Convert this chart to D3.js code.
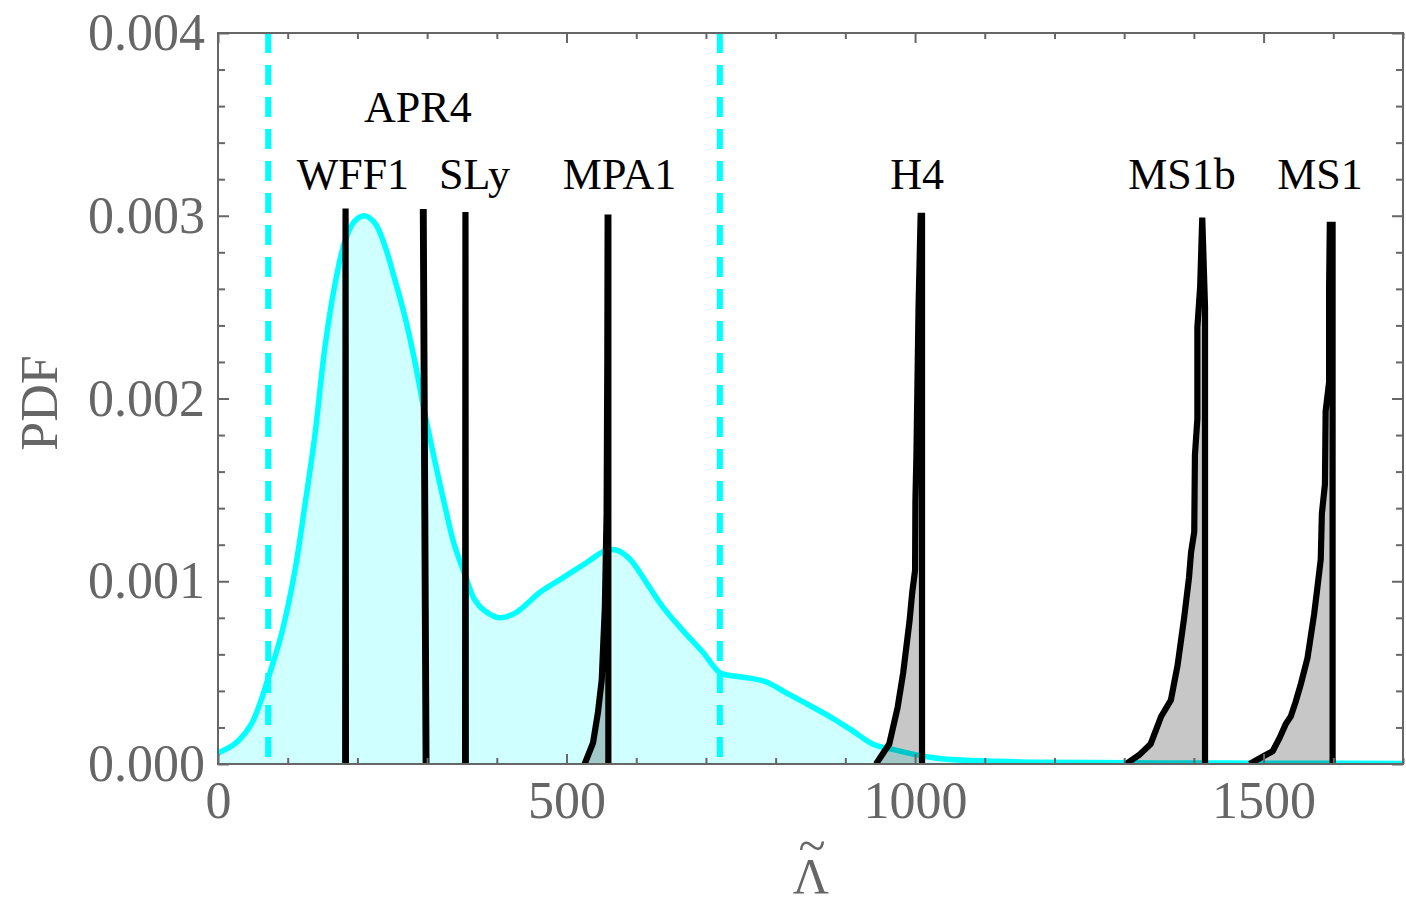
<!DOCTYPE html>
<html><head><meta charset="utf-8">
<script src="https://cdn.jsdelivr.net/npm/d3@7/dist/d3.min.js"></script>
<style>body{margin:0;background:#fff}</style>
</head><body>
<svg id="chart" width="1406" height="904"></svg>
<script>
// ---- Data ----
const lambdaGrid = [0,20,30,48,60,72,91,110,124,139,153,167,182,196,210,225,239,253,268,282,296,311,325,339,354,368,382,404,428,462,495,528,557,572,591,615,638,667,696,720,744,763,786,815,849,882,911,939,968,1002,1035,1073,1120,1170,1250,1350,1450,1550,1700];
const pdfPosterior = [0.00006,0.0001,0.00013,0.00022,0.00033,0.00047,0.00071,0.00105,0.0014,0.0018,0.00227,0.00261,0.00286,0.00297,0.0030,0.00296,0.00284,0.00266,0.00245,0.00221,0.00193,0.00166,0.00142,0.0012,0.00104,0.0009,0.00084,0.0008,0.00083,0.00094,0.00102,0.0011,0.00117,0.00117,0.00112,0.00099,0.00086,0.00073,0.00061,0.0005,0.00048,0.00047,0.00045,0.00039,0.00032,0.00025,0.00018,0.00011,0.00008,0.00005,0.00003,0.00002,0.000015,0.00001,0.000008,0.000006,0.000005,0.000004,0.000003];
const credibleBounds = [72, 720];

const eosNames = ["WFF1","APR4","SLy","MPA1","H4","MS1b","MS1"];
const eosLambda = [
  [182.5,183,183.5],
  [298,294,295,299],
  [354.5,355,355.5],
  [526,538,545,550.5,552.5,555,557.5,558.5,559,560,560],
  [944,963,975,983,992,996,1000,1000.5,1002,1005,1008,1010,1010],
  [1302.6,1321.7,1338,1353,1367,1376.6,1386,1393,1396,1400.5,1401.5,1405,1405,1409,1412,1416,1416],
  [1480,1498.5,1513,1522.6,1532,1539,1546,1553.6,1563,1572.5,1577,1582,1583.6,1588,1589,1594,1594,1595,1599,1599]
];
const eosPdf = [
  [0,0.00304,0],
  [0,0.00302,0.00302,0],
  [0,0.00302,0],
  [0,0.000115,0.00028,0.00046,0.00064,0.00086,0.00137,0.0022,0.00299,0.00299,0],
  [0,0.00011,0.00031,0.0005,0.00078,0.00094,0.00106,0.00144,0.0017,0.0025,0.003,0.003,0],
  [0,0.00005,0.00011,0.00026,0.00035,0.00054,0.0008,0.00102,0.00116,0.00127,0.00169,0.00189,0.00239,0.00261,0.00299,0.0025,0],
  [0,0.00004,0.00007,0.00014,0.00022,0.00026,0.00034,0.00044,0.00058,0.00082,0.00096,0.00112,0.00137,0.00153,0.00193,0.00209,0.00261,0.00295,0.00295,0]
];
const eosLabelLambda = [193.5, 286.7, 368, 576, 1003, 1383, 1581];
const eosLabelPdf = [0.003146, 0.003513, 0.003146, 0.003146, 0.003146, 0.003146, 0.003146];

const xMajorTicks = [0, 500, 1000, 1500];
const yMajorTicks = [0, 0.001, 0.002, 0.003, 0.004];
const xDomain = [0, 1700];
const yDomain = [0, 0.004];

// ---- Layout ----
const L = 218, R = 1403, T = 33, B = 764;
const svg = d3.select("#chart");
const x = d3.scaleLinear().domain(xDomain).range([L, R]);
const y = d3.scaleLinear().domain(yDomain).range([B, T]);
const serif = "'Liberation Serif', 'Times New Roman', serif";
const gray = "#666666";

const xMinor = d3.range(0, 1701, 100).filter(v => v % 500 !== 0);
const yMinor = d3.range(0, 21).map(i => i * 0.0002).filter((v, i) => i % 5 !== 0);

// clip
svg.append("defs").append("clipPath").attr("id", "clip")
  .append("rect").attr("x", L).attr("y", T).attr("width", R - L).attr("height", B - T);
const plot = svg.append("g").attr("clip-path", "url(#clip)");

// posterior
const pts = lambdaGrid.map((v, i) => [v, pdfPosterior[i]]);
const smooth = d3.curveCatmullRom.alpha(0.5);
plot.append("path").datum(pts)
  .attr("d", d3.area().x(d => x(d[0])).y0(y(0)).y1(d => y(d[1])).curve(smooth))
  .attr("fill", "#00ffff").attr("fill-opacity", 0.19);
plot.append("path").datum(pts)
  .attr("d", d3.line().x(d => x(d[0])).y(d => y(d[1])).curve(smooth))
  .attr("fill", "none").attr("stroke", "#00ffff").attr("stroke-width", 5.5);

// credible bounds
plot.selectAll("line.cb").data(credibleBounds).enter().append("line")
  .attr("x1", d => x(d)).attr("x2", d => x(d)).attr("y1", y(0.004)).attr("y2", y(0))
  .attr("stroke", "#00ffff").attr("stroke-width", 6).attr("stroke-dasharray", "20 12");

// EOS distributions
eosLambda.forEach((lams, k) => {
  const p = lams.map((v, i) => [v, eosPdf[k][i]]);
  plot.append("path").datum(p)
    .attr("d", d3.area().x(d => x(d[0])).y0(y(0)).y1(d => y(d[1])))
    .attr("fill", "#000").attr("fill-opacity", 0.22);
});
eosLambda.forEach((lams, k) => {
  const p = lams.map((v, i) => [v, eosPdf[k][i]]);
  plot.append("path").datum(p)
    .attr("d", d3.line().x(d => x(d[0])).y(d => y(d[1])))
    .attr("fill", "none").attr("stroke", "#000").attr("stroke-width", 6.2)
    .attr("stroke-linejoin", "miter").attr("stroke-miterlimit", 2);
});

// labels
svg.selectAll("text.eos").data(eosNames).enter().append("text")
  .attr("x", (d, i) => x(eosLabelLambda[i])).attr("y", (d, i) => y(eosLabelPdf[i]))
  .attr("text-anchor", "middle").attr("font-family", serif).attr("font-size", 44)
  .attr("fill", "#000").text(d => d);

// axes
function styleAxis(g) {
  g.select(".domain").remove();
  g.attr("color", gray).attr("font-family", serif).attr("font-size", 52);
  g.selectAll(".tick line").attr("stroke-width", 2);
  g.selectAll(".tick text").attr("fill", gray);
}
svg.append("g").attr("transform", `translate(0,${B})`)
  .call(d3.axisBottom(x).tickValues(xMajorTicks).tickSizeInner(-10).tickSizeOuter(0).tickPadding(17).tickFormat(d3.format("d")))
  .call(styleAxis);
svg.append("g").attr("transform", `translate(0,${B})`)
  .call(d3.axisBottom(x).tickValues(xMinor).tickSizeInner(-6).tickSizeOuter(0).tickFormat(""))
  .call(styleAxis);
svg.append("g").attr("transform", `translate(0,${T})`)
  .call(d3.axisTop(x).tickValues(xMajorTicks).tickSizeInner(-10).tickSizeOuter(0).tickFormat(""))
  .call(styleAxis);
svg.append("g").attr("transform", `translate(0,${T})`)
  .call(d3.axisTop(x).tickValues(xMinor).tickSizeInner(-6).tickSizeOuter(0).tickFormat(""))
  .call(styleAxis);
svg.append("g").attr("transform", `translate(${L},0)`)
  .call(d3.axisLeft(y).tickValues(yMajorTicks).tickSizeInner(-11).tickSizeOuter(0).tickPadding(13).tickFormat(d3.format(".3f")))
  .call(styleAxis);
svg.append("g").attr("transform", `translate(${L},0)`)
  .call(d3.axisLeft(y).tickValues(yMinor).tickSizeInner(-7).tickSizeOuter(0).tickFormat(""))
  .call(styleAxis);
svg.append("g").attr("transform", `translate(${R},0)`)
  .call(d3.axisRight(y).tickValues(yMajorTicks).tickSizeInner(-11).tickSizeOuter(0).tickFormat(""))
  .call(styleAxis);
svg.append("g").attr("transform", `translate(${R},0)`)
  .call(d3.axisRight(y).tickValues(yMinor).tickSizeInner(-7).tickSizeOuter(0).tickFormat(""))
  .call(styleAxis);

// frame
svg.append("rect").attr("x", L).attr("y", T).attr("width", R - L).attr("height", B - T)
  .attr("fill", "none").attr("stroke", gray).attr("stroke-width", 2);

// axis titles
svg.append("text").attr("transform", "translate(57,403) rotate(-90)")
  .attr("text-anchor", "middle").attr("font-family", serif).attr("font-size", 52)
  .attr("fill", gray).text("PDF");
const xTitle = svg.append("text").attr("fill", gray).attr("font-family", serif)
  .attr("text-anchor", "middle").attr("font-size", 50);
xTitle.append("tspan").attr("x", 811).attr("y", 893).text("\u039B");
xTitle.append("tspan").attr("x", 812).attr("y", 862).text("~");
</script>
</body></html>
